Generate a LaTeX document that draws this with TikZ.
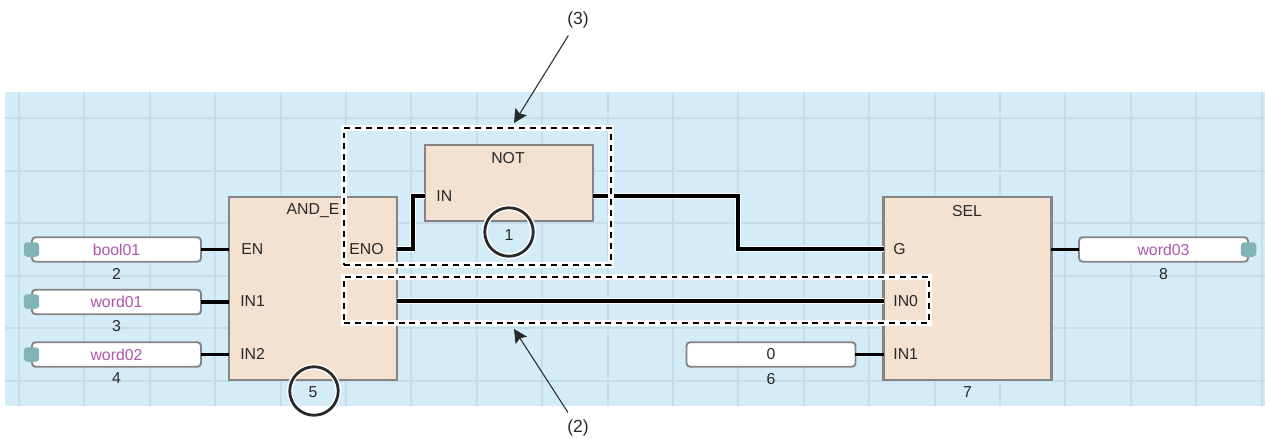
\documentclass[tikz,border=0pt]{standalone}
\usepackage{fontspec}
\setmainfont{Liberation Sans}
\usetikzlibrary{arrows.meta,positioning}
\definecolor{sheet}{RGB}{212,236,248}
\definecolor{gridblue}{RGB}{196,221,233}
\definecolor{blockfill}{RGB}{245,225,208}
\definecolor{edgegray}{RGB}{132,132,132}
\definecolor{varpurple}{RGB}{176,84,172}
\definecolor{nubteal}{RGB}{128,180,182}
\definecolor{inkgray}{RGB}{40,40,40}

\begin{document}
\begin{tikzpicture}[
  x=.02cm,
  y=-.02cm,
  gridline/.style={draw=gridblue,line width=1.1pt},
  block/.style={
    draw=edgegray,
    fill=blockfill,
    line width=1.2pt,
    outer sep=0pt,
    minimum width=3.36cm
  },
  var/.style={
    draw=edgegray,
    fill=white,
    rounded corners=2pt,
    line width=1.1pt,
    outer sep=0pt,
    minimum width=3.38cm,
    minimum height=.49cm,
    inner sep=0pt,
    font=\fontsize{9}{10}\selectfont
  },
  nub/.style={
    fill=nubteal,
    rounded corners=2pt,
    minimum width=.31cm,
    minimum height=.29cm,
    inner sep=0pt
  },
  pin/.style={
    font=\fontsize{9}{10}\selectfont,
    text=inkgray,
    anchor=west,
    inner sep=0pt
  },
  num/.style={
    font=\fontsize{9}{10}\selectfont,
    text=inkgray,
    inner sep=0pt
  },
  wire/.style={draw=black,line width=2.2pt},
  halo/.style={preaction={draw=white,line width=3.2pt}},
  markbox/.style={
    draw=black,
    line width=1.6pt,
    dash pattern=on 3.4pt off 2.8pt,
    outer sep=0pt,
    inner sep=0pt,
    preaction={draw=white,solid,line width=3pt}
  },
  ring/.style={
    circle,
    draw=inkgray,
    line width=1.6pt,
    minimum size=.97cm,
    inner sep=0pt,
    preaction={draw=white,line width=3.2pt}
  },
  callout/.style={
    font=\fontsize{10}{12}\selectfont,
    text=inkgray,
    inner sep=4pt
  },
  pointer/.style={
    -{Stealth[length=2.7mm,width=2.7mm,inset=.5mm]},
    draw=inkgray,
    line width=.6pt
  }
]
\useasboundingbox (0,0) rectangle (1265,437);

\fill[sheet] (5,92) rectangle (1265,406);
\foreach \gx in {0,...,19}
  \draw[gridline] ({19+65.4*\gx},92) -- ({19+65.4*\gx},406);
\foreach \gy in {0,...,5}
  \draw[gridline] (5,{118+52.6*\gy}) -- (1265,{118+52.6*\gy});

% function blocks
\node[block,minimum height=3.66cm] (andE) at (313,288.5) {};
\node[block,minimum height=1.52cm] (notB) at (509,183) {};
\node[block,minimum height=3.66cm] (selB) at (967.5,288.5) {};

\node[num] (andName) at (313,211) {AND\_E};
\node[num] (notName) at (508,158) {NOT};
\node[num] (selName) at (967,211) {SEL};

% pins
\node[pin] (andEN) at (241,249) {EN};
\node[pin] (andIN1) at (240,301) {IN1};
\node[pin] (andIN2) at (240,354) {IN2};
\node[pin] (andENO) at (349,249) {ENO};
\node[pin] (notIN) at (436,196) {IN};
\node[pin] (selG) at (893,249) {G};
\node[pin] (selIN0) at (893,301) {IN0};
\node[pin] (selIN1) at (893,354) {IN1};

% variables
\node[var,text=varpurple] (bool01) at (116.5,249.5) {bool01};
\node[var,text=varpurple,below=.56cm of bool01] (word01) {word01};
\node[var,text=varpurple,below=.56cm of word01] (word02) {word02};
\node[var,text=varpurple] (word03) at (1163.5,249.5) {word03};
\node[var,text=inkgray] (const0) at (771,354.5) {0};

\node[nub] (nubA) at (31.5,249.5) {};
\node[nub] (nubB) at (31.5,301.5) {};
\node[nub] (nubC) at (31.5,354.5) {};
\node[nub] (nubD) at (1248.5,249.5) {};

\node[num,below=.12cm of bool01] (numA) {2};
\node[num,below=.12cm of word01] (numB) {3};
\node[num,below=.12cm of word02] (numC) {4};
\node[num,below=.12cm of const0] (numD) {6};
\node[num,below=.12cm of word03] (numE) {8};
\node[num,below=.12cm of selB] (numF) {7};

% wires
\coordinate (bendA) at (413,196);
\coordinate (bendB) at (738,249);
\draw[wire] (bool01.east) -- (bool01.east -| andE.west);
\draw[wire] (word01.east) -- (word01.east -| andE.west);
\draw[wire] (word02.east) -- (word02.east -| andE.west);
\draw[wire,halo] (andENO -| andE.east) -| (bendA) -- (bendA -| notB.west);
\draw[wire,halo] (bendA -| notB.east) -| (bendB) -- (bendB -| selB.west);
\draw[wire,halo] (andE.east |- selIN0) -- (selB.west |- selIN0);
\draw[wire] (const0.east) -- (const0.east -| selB.west);
\draw[wire] (selB.east |- word03) -- (word03.west);

% highlighted parts
\node[markbox,minimum width=5.34cm,minimum height=2.74cm] (partC) at (477.5,196.5) {};
\node[markbox,minimum width=11.7cm,minimum height=.92cm] (partB) at (636.5,300) {};

\node[ring] (ringA) at (509,232) {};
\node[num] (numG) at (509,235) {1};
\node[ring] (ringB) at (314,391) {};
\node[num] (numH) at (313,392) {5};

% callouts
\node[callout] (labC) at (578,20) {(3)};
\node[callout] (labB) at (578,428) {(2)};
\coordinate (tipC) at (514,123);
\coordinate (tipB) at (514,329);
\draw[pointer] (labC) -- (tipC);
\draw[pointer] (labB) -- (tipB);
\end{tikzpicture}
\end{document}
